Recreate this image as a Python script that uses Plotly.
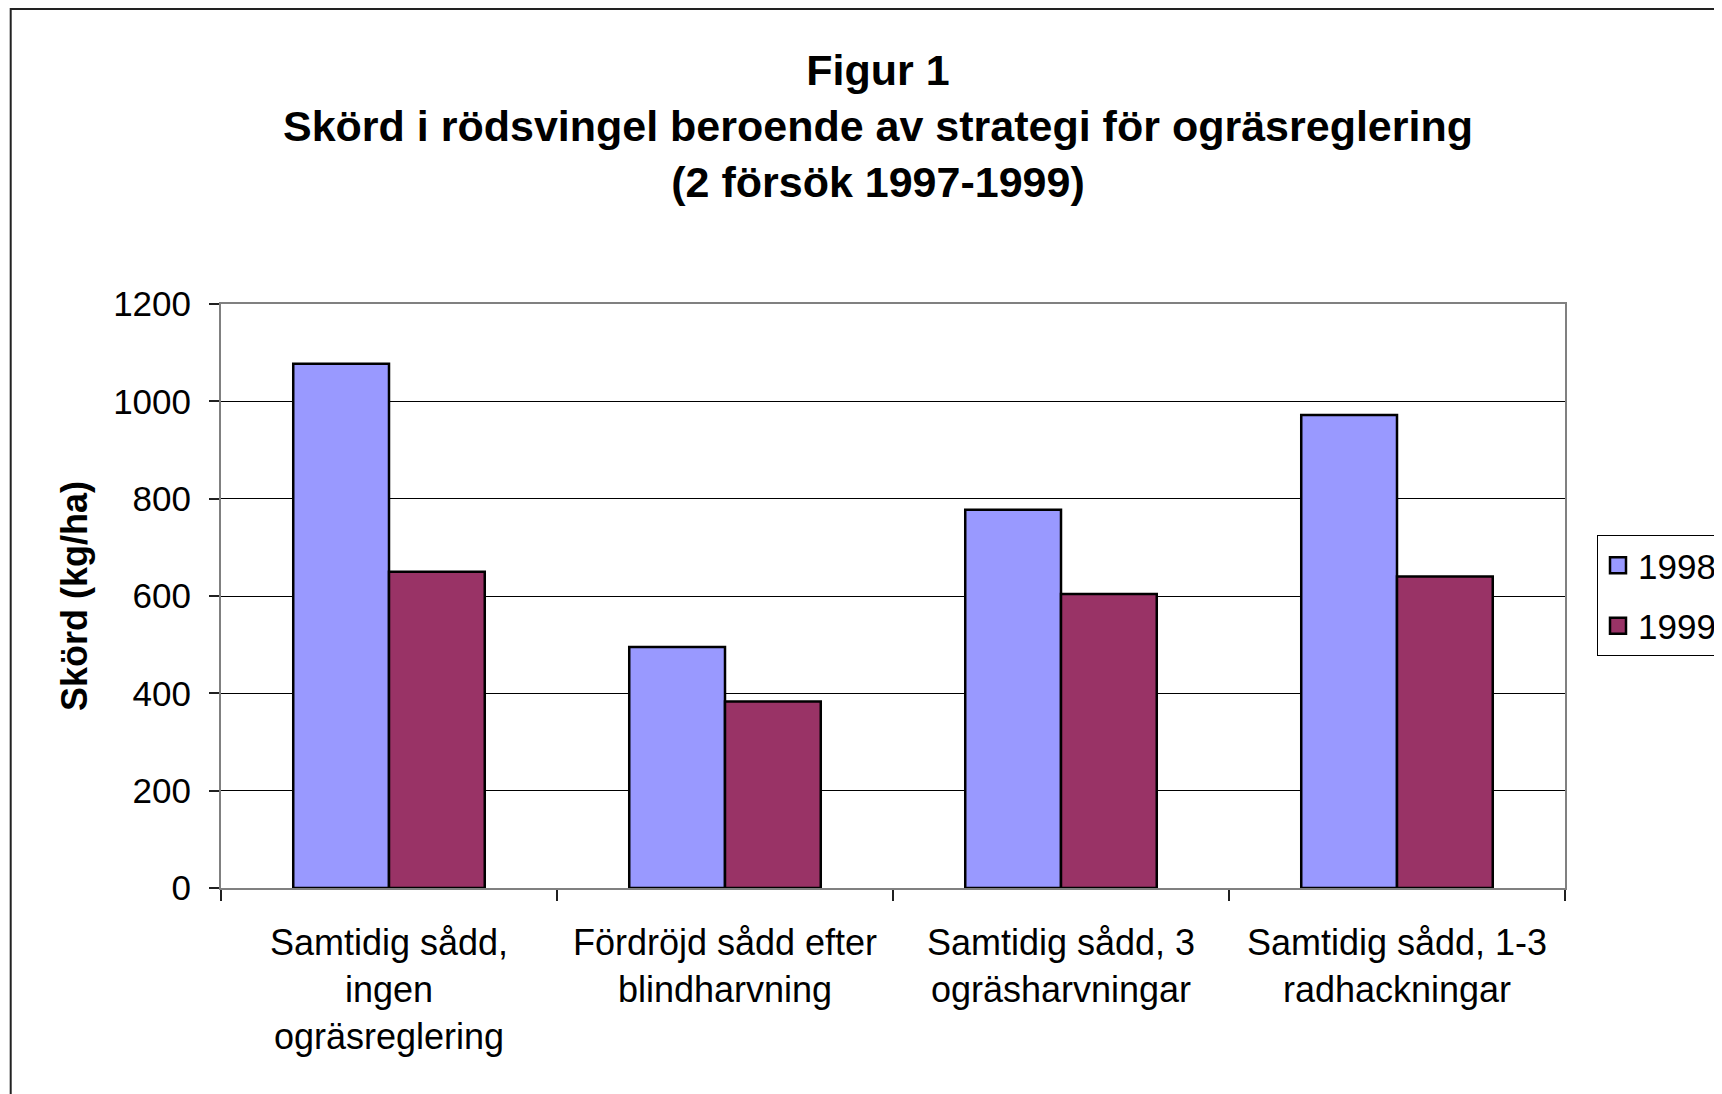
import plotly.graph_objects as go

categories = [
    "Samtidig sådd,<br>ingen<br>ogräsreglering",
    "Fördröjd sådd efter<br>blindharvning",
    "Samtidig sådd, 3<br>ogräsharvningar",
    "Samtidig sådd, 1-3<br>radhackningar",
]
series_names = ["1998", "1999"]
values_1998 = [1077, 495, 777, 972]
values_1999 = [650, 383, 604, 640]
colors = ["#9999FF", "#993366"]
y_ticks = [0, 200, 400, 600, 800, 1000, 1200]

FONT = "Liberation Sans, Arial, sans-serif"

# figure is drawn inside the page's default 8px body margin
W, H = 1714, 1086
ML, MR, MT, MB = 213, 157, 296, 206
PW, PH = W - ML - MR, H - MT - MB

fig = go.Figure()
for name, vals, col in zip(series_names, [values_1998, values_1999], colors):
    fig.add_trace(go.Bar(
        x=categories, y=vals, name=name, showlegend=False,
        marker=dict(color=col, line=dict(color="black", width=2.5)),
    ))
for name, col in zip(series_names, colors):
    fig.add_trace(go.Scatter(
        x=[None], y=[None], name=name, mode="markers", legendgroup=name,
        marker=dict(symbol="square", size=20, color=col, line=dict(color="black", width=2.5)),
    ))

fig.update_layout(
    width=W, height=H,
    paper_bgcolor="white", plot_bgcolor="white",
    margin=dict(l=ML, r=MR, t=MT, b=MB, autoexpand=False),
    barmode="group", bargap=0.43, bargroupgap=0,
    font=dict(family=FONT, color="black", size=35),
    title=dict(
        text="<b>Figur 1<br>Skörd i rödsvingel beroende av strategi för ogräsreglering<br>(2 försök 1997-1999)</b>",
        x=870 / W, xanchor="center", xref="container",
        y=1 - 77 / H, yanchor="top", yref="container",
        font=dict(size=43, family=FONT, color="black"),
    ),
    legend=dict(
        x=(1589 - ML) / PW, xanchor="left",
        y=(H - MB - 527) / PH, yanchor="top",
        bgcolor="white", bordercolor="black", borderwidth=1,
        font=dict(size=35, family=FONT), traceorder="grouped", tracegroupgap=12,
    ),
    shapes=[dict(
        type="rect", xref="paper", yref="paper",
        x0=(2.7 - ML) / PW, x1=2.0, y0=-2.0, y1=(H - MB - 1) / PH,
        line=dict(color="#222222", width=2), fillcolor="rgba(0,0,0,0)", layer="below",
    )],
)

fig.update_xaxes(
    type="category", tickson="boundaries", ticks="outside", ticklen=11, tickcolor="#202020",
    tickwidth=1.5, showline=True, linecolor="#808080", linewidth=2, mirror=True,
    showgrid=False, tickfont=dict(size=36, family=FONT), ticklabelstandoff=22,
)
fig.update_yaxes(
    range=[0, 1200], tickvals=y_ticks, ticks="outside", ticklen=10, tickcolor="#202020",
    tickwidth=1.5, showline=True, linecolor="#808080", linewidth=2, mirror=True,
    showgrid=True, gridcolor="#000000", gridwidth=1, zeroline=False,
    tickfont=dict(size=35, family=FONT), ticklabelstandoff=11,
    title=dict(text="<b>Skörd (kg/ha)</b>", font=dict(size=36, family=FONT), standoff=15),
)

fig.write_html("out.html")
